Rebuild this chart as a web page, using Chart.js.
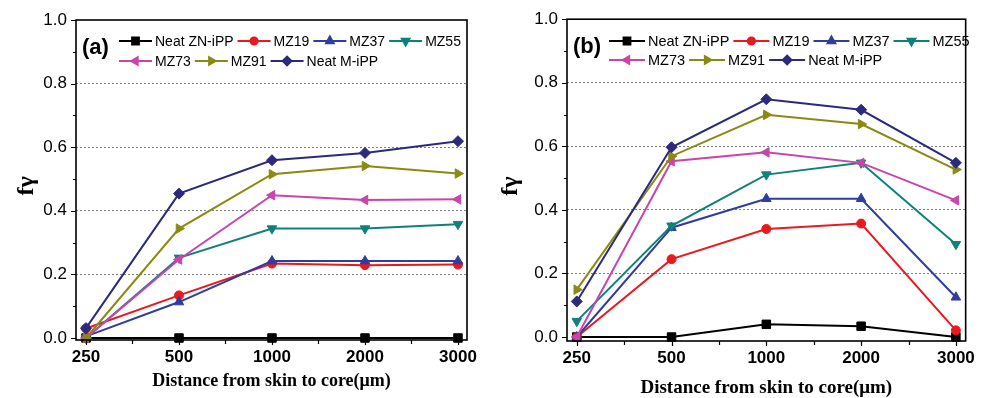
<!DOCTYPE html>
<html>
<head>
<meta charset="utf-8">
<script src="https://cdn.jsdelivr.net/npm/chart.js@4.4.0/dist/chart.umd.min.js"></script>
<style>
  html, body { margin: 0; padding: 0; background: #fff; }
  #wrap { position: relative; width: 982px; height: 398px; overflow: hidden; }
  .panel { position: absolute; top: 0; width: 491px; height: 398px; }
</style>
</head>
<body>
<div id="wrap">
  <div class="panel" style="left:0"><canvas id="chartA" width="491" height="398"></canvas></div>
  <div class="panel" style="left:491px"><canvas id="chartB" width="491" height="398"></canvas></div>
</div>
<script>
// Sampling depths (µm) and series names
const distances = ['250', '500', '1000', '2000', '3000'];
const seriesNames = ['Neat ZN-iPP', 'MZ19', 'MZ37', 'MZ55', 'MZ73', 'MZ91', 'Neat M-iPP'];
const yTickValues = [0, 0.2, 0.4, 0.6, 0.8, 1.0];

// Panel (a): γ-phase fraction
const aNeatZN = [0, 0, 0, 0, 0];
const aMZ19   = [0.030, 0.134, 0.234, 0.229, 0.231];
const aMZ37   = [0.005, 0.113, 0.242, 0.242, 0.242];
const aMZ55   = [0, 0.252, 0.344, 0.344, 0.358];
const aMZ73   = [0, 0.247, 0.449, 0.434, 0.436];
const aMZ91   = [0, 0.344, 0.515, 0.541, 0.517];
const aNeatM  = [0.031, 0.454, 0.559, 0.582, 0.619];

// Panel (b): γ-phase fraction
const bNeatZN = [0, 0, 0.040, 0.034, 0];
const bMZ19   = [0, 0.245, 0.340, 0.357, 0.021];
const bMZ37   = [0, 0.344, 0.435, 0.435, 0.125];
const bMZ55   = [0.050, 0.350, 0.511, 0.548, 0.292];
const bMZ73   = [0, 0.553, 0.581, 0.548, 0.430];
const bMZ91   = [0.149, 0.569, 0.699, 0.670, 0.527];
const bNeatM  = [0.112, 0.597, 0.748, 0.715, 0.548];

// Line / marker look for each series
const seriesStyle = [
  { color: '#000000', pointStyle: 'rect',     rotation: 0,   radius: 6   },
  { color: '#e8191f', pointStyle: 'circle',   rotation: 0,   radius: 4.5 },
  { color: '#2f3da0', pointStyle: 'triangle', rotation: 0,   radius: 5.5 },
  { color: '#0f807a', pointStyle: 'triangle', rotation: 180, radius: 5.5 },
  { color: '#c845aa', pointStyle: 'triangle', rotation: 270, radius: 5.5 },
  { color: '#8a8a12', pointStyle: 'triangle', rotation: 90,  radius: 5.5 },
  { color: '#2b2a7c', pointStyle: 'rectRot',  rotation: 0,   radius: 5.5 }
];

function buildDatasets(seriesList) {
  return seriesList.map((vals, i) => {
    const st = seriesStyle[i];
    return {
      label: seriesNames[i],
      data: vals.map((v, k) => ({ x: k, y: v })),
      borderColor: st.color,
      backgroundColor: st.color,
      pointBackgroundColor: st.color,
      pointBorderColor: st.color,
      pointStyle: st.pointStyle,
      pointRotation: st.rotation,
      pointRadius: st.radius,
      pointBorderWidth: 1,
      borderWidth: 2,
      tension: 0,
      clip: false,
      order: seriesList.length - i
    };
  });
}

// Frame, outward tick marks, panel tag and the in-plot legend
const panelDecor = {
  id: 'panelDecor',
  afterDraw(chart, args, o) {
    const { ctx, chartArea: ca } = chart;
    const xs = chart.scales.x, ys = chart.scales.y;
    ctx.save();
    ctx.strokeStyle = '#000';
    ctx.lineWidth = 1.6;
    ctx.strokeRect(ca.left, ca.top, ca.right - ca.left, ca.bottom - ca.top);

    ctx.lineWidth = 1.2;
    ctx.beginPath();
    for (let k = 0; k <= 10; k++) {
      const py = Math.round(ys.getPixelForValue(k / 10)) + 0.5;
      const len = k % 2 === 0 ? 5 : 3;
      ctx.moveTo(ca.left - len, py);
      ctx.lineTo(ca.left, py);
    }
    for (let k = 0; k <= 8; k++) {
      const px = Math.round(xs.getPixelForValue(k / 2)) + 0.5;
      const len = k % 2 === 0 ? 5 : 4;
      ctx.moveTo(px, ca.bottom);
      ctx.lineTo(px, ca.bottom + len);
    }
    ctx.stroke();

    ctx.fillStyle = '#000';
    ctx.textAlign = 'left';
    ctx.textBaseline = 'middle';
    ctx.font = 'bold 22px "Liberation Sans", Arial, sans-serif';
    ctx.fillText(o.tag, o.tagX, o.tagY);

    ctx.font = o.legendFont + 'px "Liberation Sans", Arial, sans-serif';
    o.rows.forEach((row, r) => {
      let cx = o.legendX;
      const cy = o.legendY[r];
      row.forEach(di => {
        const ds = chart.data.datasets[di];
        ctx.strokeStyle = ds.borderColor;
        ctx.lineWidth = 2;
        ctx.beginPath();
        ctx.moveTo(cx, cy);
        ctx.lineTo(cx + o.lineLen, cy);
        ctx.stroke();
        ctx.fillStyle = ds.backgroundColor;
        Chart.helpers.drawPoint(ctx, {
          pointStyle: ds.pointStyle,
          rotation: ds.pointRotation,
          radius: ds.pointRadius * 0.8,
          borderWidth: 1
        }, cx + o.lineLen / 2, cy);
        ctx.fillStyle = '#000';
        ctx.fillText(ds.label, cx + o.lineLen + 3, cy + 1);
        cx += o.lineLen + 3 + ctx.measureText(ds.label).width + 4;
      });
    });
    ctx.restore();
  }
};

function makeChart(canvasId, seriesList, g) {
  const W = 491, H = 398;
  return new Chart(document.getElementById(canvasId), {
    type: 'line',
    data: { datasets: buildDatasets(seriesList) },
    plugins: [panelDecor],
    options: {
      responsive: false,
      animation: false,
      devicePixelRatio: 1,
      layout: { padding: { left: 0, top: g.top, right: W - g.right, bottom: 0 } },
      plugins: {
        legend: { display: false },
        tooltip: { enabled: false },
        panelDecor: g.decor
      },
      scales: {
        x: {
          type: 'linear',
          min: g.xMin, max: g.xMax,
          afterBuildTicks: s => { s.ticks = distances.map((_, i) => ({ value: i })); },
          afterFit: s => { s.height = H - g.bottom; },
          grid: { display: false, drawTicks: false },
          border: { display: false },
          ticks: {
            autoSkip: false, maxRotation: 0, padding: 7, color: '#000',
            font: { family: '"Liberation Sans", Arial, sans-serif', size: 17, weight: 'bold' },
            callback: v => distances[v] ?? ''
          },
          title: {
            display: true, text: 'Distance from skin to core(μm)', color: '#000',
            font: { family: '"Liberation Serif", "Times New Roman", serif', size: g.xTitleSize, weight: 'bold', lineHeight: 1 },
            padding: { top: g.xTitlePad, bottom: g.xTitlePad }
          }
        },
        y: {
          min: g.yMin, max: 1.0,
          afterBuildTicks: s => { s.ticks = yTickValues.map(v => ({ value: v })); },
          afterFit: s => { s.width = g.left; },
          grid: {
            drawTicks: false, lineWidth: 1,
            color: c => (c.tick && c.tick.value > 0.01 && c.tick.value < 0.99) ? '#808080' : 'rgba(0,0,0,0)'
          },
          border: { display: false, dash: [2, 2] },
          ticks: {
            autoSkip: false, padding: 9, color: '#000',
            font: { family: '"Liberation Sans", Arial, sans-serif', size: 17 },
            callback: v => Number(v).toFixed(1)
          },
          title: {
            display: true, text: 'fγ  ', color: '#000',
            font: { family: '"Liberation Serif", "Times New Roman", serif', size: 24, weight: 'bold', lineHeight: 1 },
            padding: { top: g.yTitlePad, bottom: g.yTitlePad }
          }
        }
      }
    }
  });
}

makeChart('chartA', [aNeatZN, aMZ19, aMZ37, aMZ55, aMZ73, aMZ91, aNeatM], {
  left: 76, right: 467, top: 20, bottom: 340,
  xMin: -0.1075, xMax: 4.097, yMin: -0.0063,
  xTitleSize: 18, xTitlePad: 8, yTitlePad: 15,
  decor: {
    tag: '(a)', tagX: 82, tagY: 48,
    legendX: 119, legendY: [41, 61], lineLen: 33, legendFont: 14,
    rows: [[0, 1, 2, 3], [4, 5, 6]]
  }
});

makeChart('chartB', [bNeatZN, bMZ19, bMZ37, bMZ55, bMZ73, bMZ91, bNeatM], {
  left: 76, right: 483, top: 17, bottom: 341,
  xMin: -0.103, xMax: 4.103, yMin: -0.0125,
  xTitleSize: 19, xTitlePad: 0.5, yTitlePad: 8,
  decor: {
    tag: '(b)', tagX: 82, tagY: 47,
    legendX: 118, legendY: [41, 60], lineLen: 36, legendFont: 14.5,
    rows: [[0, 1, 2, 3], [4, 5, 6]]
  }
});
</script>
</body>
</html>
